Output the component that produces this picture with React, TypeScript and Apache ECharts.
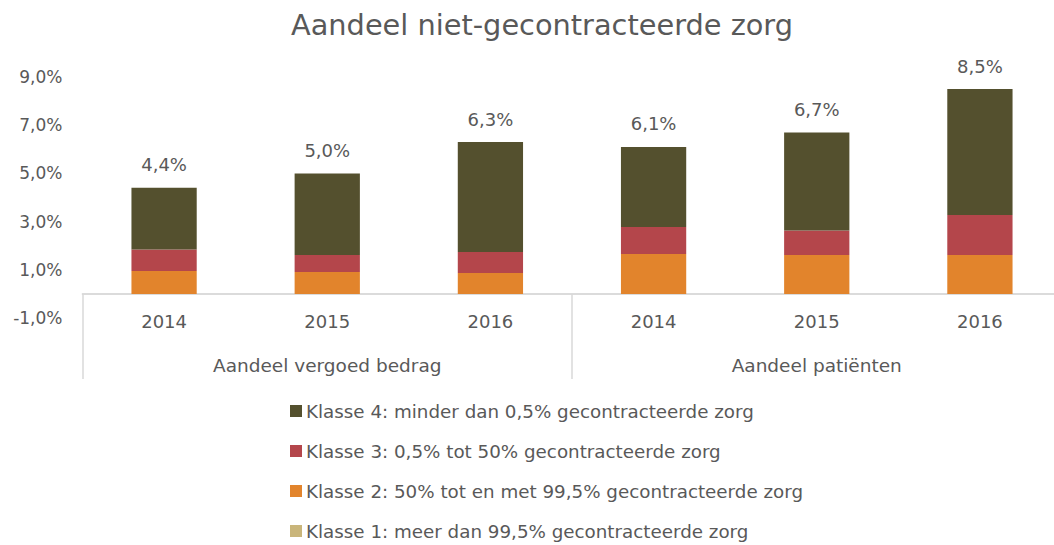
import React, { useEffect, useRef } from "react";
import * as echarts from "echarts";

const titleText = "Aandeel niet-gecontracteerde zorg";
const years = ["2014", "2015", "2016", "2014", "2015", "2016"];
const groups = ["Aandeel vergoed bedrag", "Aandeel patiënten"];
const seriesNames = [
  "Klasse 1: meer dan 99,5% gecontracteerde zorg",
  "Klasse 2: 50% tot en met 99,5% gecontracteerde zorg",
  "Klasse 3: 0,5% tot 50% gecontracteerde zorg",
  "Klasse 4: minder dan 0,5% gecontracteerde zorg",
];
const klasse1 = [0, 0, 0, 0, 0, 0];
const klasse2 = [0.95, 0.91, 0.87, 1.66, 1.61, 1.61];
const klasse3 = [0.89, 0.7, 0.87, 1.12, 1.02, 1.66];
const klasse4 = [2.56, 3.39, 4.56, 3.32, 4.07, 5.23];
const totals = [4.4, 5.0, 6.3, 6.1, 6.7, 8.5];
const colors = ["#C9B57A", "#E2842C", "#B4464B", "#54502E"];

const FONT = "DejaVu Sans";
const GRAY = "#595959";
const fmt = (v: number) => v.toFixed(1).replace(".", ",") + "%";

export default function App() {
  const ref = useRef<HTMLDivElement>(null);
  useEffect(() => {
    document.body.style.margin = "0";
    const chart = echarts.init(ref.current!, undefined, { renderer: "svg" });
    const data = [klasse1, klasse2, klasse3, klasse4];
    chart.setOption({
      animation: false,
      textStyle: { fontFamily: FONT },
      title: {
        text: titleText,
        left: 286,
        top: 5,
        textStyle: { fontFamily: FONT, fontSize: 28.8, fontWeight: "normal", color: GRAY },
      },
      legend: {
        orient: "vertical",
        left: 290,
        top: 402,
        height: 143,
        padding: 0,
        itemWidth: 12,
        itemHeight: 12,
        itemGap: 22,
        icon: "rect",
        data: [seriesNames[3], seriesNames[2], seriesNames[1], seriesNames[0]],
        textStyle: { fontFamily: FONT, fontSize: 18.3, color: GRAY, padding: [0, 0, 0, -1] },
      },
      grid: { left: 82.5, top: 77, width: 979, height: 241, containLabel: false },
      xAxis: [
        {
          type: "category",
          data: years,
          position: "bottom",
          axisLine: { onZero: true, onZeroAxisIndex: 0, lineStyle: { color: "#D9D9D9", width: 1.5 } },
          axisTick: { show: false },
          axisLabel: { interval: 0, margin: -6, fontSize: 18, color: GRAY, fontFamily: FONT },
        },
        {
          type: "category",
          data: groups,
          position: "bottom",
          axisLine: { show: true, onZero: true, onZeroAxisIndex: 0, lineStyle: { color: "#D9D9D9", width: 1.5 } },
          axisTick: { show: true, length: 85, lineStyle: { color: "#D9D9D9", width: 1.5 } },
          axisLabel: { interval: 0, margin: 38, fontSize: 18.5, color: GRAY, fontFamily: FONT },
        },
      ],
      yAxis: {
        type: "value",
        min: -1,
        max: 9,
        interval: 2,
        axisLine: { show: false },
        axisTick: { show: false },
        splitLine: { show: false },
        axisLabel: { margin: 20, fontSize: 17, color: GRAY, fontFamily: FONT, formatter: (v: number) => fmt(v) },
      },
      series: data.map((d, i) => ({
        name: seriesNames[i],
        type: "bar",
        stack: "total",
        xAxisIndex: 0,
        barWidth: "40%",
        itemStyle: { color: colors[i] },
        data: d,
        label:
          i === 3
            ? {
                show: true,
                position: "top",
                distance: 14,
                fontSize: 18,
                fontFamily: FONT,
                color: GRAY,
                formatter: (p: any) => fmt(totals[p.dataIndex]),
              }
            : { show: false },
      })),
    });
    return () => chart.dispose();
  }, []);
  return (
    <div style={{ position: "absolute", left: 0, top: 0, width: 1054, height: 545, overflow: "hidden" }}>
      <div ref={ref} style={{ position: "absolute", left: 0, top: 0, width: 1080, height: 545 }} />
    </div>
  );
}
